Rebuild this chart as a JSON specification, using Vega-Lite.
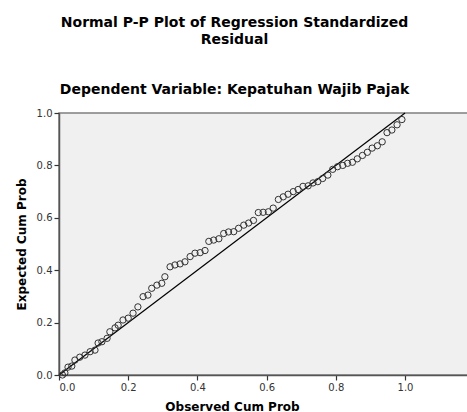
{
  "$schema": "https://vega.github.io/schema/vega-lite/v6.json",
  "width": 409,
  "height": 262,
  "autosize": {"type": "none"},
  "padding": {"left": 59, "top": 113, "right": 0, "bottom": 37},
  "background": "white",
  "title": {
    "text": ["Normal P-P Plot of Regression Standardized", "Residual"],
    "subtitle": "Dependent Variable: Kepatuhan Wajib Pajak",
    "anchor": "middle",
    "frame": "group",
    "dx": -29,
    "offset": 11,
    "font": "DejaVu Sans",
    "fontSize": 14,
    "fontWeight": "bold",
    "lineHeight": 17,
    "color": "#000000",
    "subtitleFont": "DejaVu Sans",
    "subtitleFontSize": 14,
    "subtitleFontWeight": "bold",
    "subtitleColor": "#000000",
    "subtitlePadding": 36
  },
  "config": {
    "view": {"fill": "#f0f0f0", "stroke": "#7f7f7f", "strokeWidth": 1.5},
    "axis": {
      "grid": false,
      "labelFont": "DejaVu Sans",
      "labelFontSize": 10,
      "labelColor": "#333333",
      "titleFont": "DejaVu Sans",
      "titleFontSize": 12,
      "titleFontWeight": "bold",
      "titleColor": "#000000",
      "domainColor": "#555555",
      "domainWidth": 1.5,
      "tickColor": "#333333",
      "tickSize": 5,
      "tickWidth": 1.2
    }
  },
  "layer": [
    {
      "data": {"values": [{"ox": 0, "ey": 0}, {"ox": 1, "ey": 1}]},
      "mark": {"type": "line", "color": "#000000", "strokeWidth": 1.2},
      "encoding": {
        "x": {"field": "ox", "type": "quantitative"},
        "y": {"field": "ey", "type": "quantitative"}
      }
    },
    {
      "data": {
        "values": [
          {"ox": 0.010, "ey": 0.000}, {"ox": 0.017, "ey": 0.008}, {"ox": 0.026, "ey": 0.030},
          {"ox": 0.037, "ey": 0.034}, {"ox": 0.046, "ey": 0.057}, {"ox": 0.060, "ey": 0.068},
          {"ox": 0.075, "ey": 0.076}, {"ox": 0.090, "ey": 0.089}, {"ox": 0.104, "ey": 0.095},
          {"ox": 0.113, "ey": 0.122}, {"ox": 0.124, "ey": 0.127}, {"ox": 0.139, "ey": 0.140},
          {"ox": 0.147, "ey": 0.165}, {"ox": 0.162, "ey": 0.180}, {"ox": 0.171, "ey": 0.190},
          {"ox": 0.185, "ey": 0.210}, {"ox": 0.200, "ey": 0.217}, {"ox": 0.214, "ey": 0.236},
          {"ox": 0.228, "ey": 0.260}, {"ox": 0.243, "ey": 0.299}, {"ox": 0.257, "ey": 0.305},
          {"ox": 0.268, "ey": 0.331}, {"ox": 0.283, "ey": 0.343}, {"ox": 0.297, "ey": 0.350},
          {"ox": 0.306, "ey": 0.375}, {"ox": 0.321, "ey": 0.413}, {"ox": 0.335, "ey": 0.420},
          {"ox": 0.350, "ey": 0.424}, {"ox": 0.364, "ey": 0.432}, {"ox": 0.379, "ey": 0.452},
          {"ox": 0.393, "ey": 0.465}, {"ox": 0.408, "ey": 0.467}, {"ox": 0.422, "ey": 0.475},
          {"ox": 0.433, "ey": 0.510}, {"ox": 0.447, "ey": 0.515}, {"ox": 0.462, "ey": 0.520},
          {"ox": 0.476, "ey": 0.540}, {"ox": 0.490, "ey": 0.546}, {"ox": 0.505, "ey": 0.547},
          {"ox": 0.519, "ey": 0.560}, {"ox": 0.534, "ey": 0.572}, {"ox": 0.548, "ey": 0.580},
          {"ox": 0.562, "ey": 0.590}, {"ox": 0.576, "ey": 0.620}, {"ox": 0.590, "ey": 0.621},
          {"ox": 0.605, "ey": 0.623}, {"ox": 0.619, "ey": 0.637}, {"ox": 0.634, "ey": 0.670},
          {"ox": 0.648, "ey": 0.680}, {"ox": 0.662, "ey": 0.690}, {"ox": 0.677, "ey": 0.700},
          {"ox": 0.691, "ey": 0.708}, {"ox": 0.705, "ey": 0.720}, {"ox": 0.720, "ey": 0.722},
          {"ox": 0.734, "ey": 0.733}, {"ox": 0.748, "ey": 0.738}, {"ox": 0.762, "ey": 0.750},
          {"ox": 0.777, "ey": 0.763}, {"ox": 0.791, "ey": 0.785}, {"ox": 0.805, "ey": 0.795},
          {"ox": 0.820, "ey": 0.800}, {"ox": 0.834, "ey": 0.808}, {"ox": 0.848, "ey": 0.812},
          {"ox": 0.862, "ey": 0.825}, {"ox": 0.877, "ey": 0.838}, {"ox": 0.891, "ey": 0.850},
          {"ox": 0.905, "ey": 0.866}, {"ox": 0.920, "ey": 0.875}, {"ox": 0.934, "ey": 0.890},
          {"ox": 0.948, "ey": 0.925}, {"ox": 0.962, "ey": 0.935}, {"ox": 0.977, "ey": 0.955},
          {"ox": 0.991, "ey": 0.975}
        ]
      },
      "mark": {"type": "point", "shape": "circle", "filled": false, "stroke": "#333333", "strokeWidth": 1, "opacity": 1, "size": 40},
      "encoding": {
        "x": {
          "field": "ox", "type": "quantitative",
          "scale": {"domain": [0, 1.182], "nice": false, "zero": false},
          "axis": {"values": [0, 0.2, 0.4, 0.6, 0.8, 1.0], "format": ".1f", "title": "Observed Cum Prob", "titleX": 173, "titlePadding": 9}
        },
        "y": {
          "field": "ey", "type": "quantitative",
          "scale": {"domain": [0, 1], "nice": false},
          "axis": {"values": [0, 0.2, 0.4, 0.6, 0.8, 1.0], "format": ".1f", "title": "Expected Cum Prob", "titlePadding": 8}
        }
      }
    }
  ]
}
